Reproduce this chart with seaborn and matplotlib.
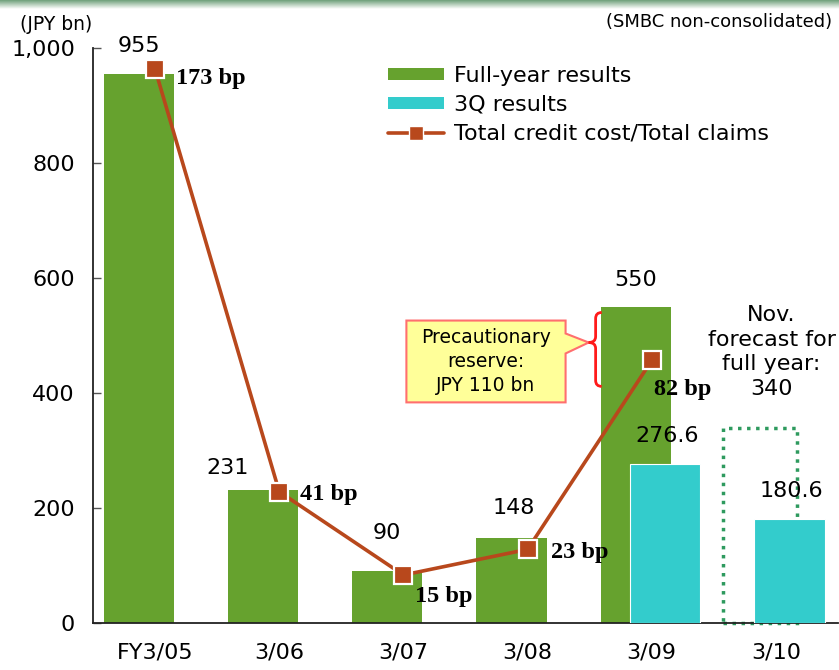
import numpy as np
import pandas as pd
import matplotlib
matplotlib.use("Agg")
import matplotlib.pyplot as plt
from matplotlib.patches import Patch, Polygon, Rectangle, PathPatch
from matplotlib.lines import Line2D
from matplotlib.path import Path
from matplotlib.ticker import FuncFormatter
import seaborn as sns

# ---- data ---------------------------------------------------------------
periods = ["FY3/05", "3/06", "3/07", "3/08", "3/09", "3/10"]
full_year = [955, 231, 90, 148, 550, None]          # JPY bn
q3_results = [None, None, None, None, 276.6, 180.6]  # JPY bn
forecast_full_year = 340                             # Nov. forecast for 3/10
credit_cost_bp = [173, 41, 15, 23, 82]               # total credit cost / total claims

# ---- style ----------------------------------------------------------------
sns.set_style("white")
plt.rcParams["font.family"] = ["DejaVu Sans"]
plt.rcParams["text.color"] = "black"
plt.rcParams["xtick.color"] = "black"
plt.rcParams["ytick.color"] = "black"

GREEN = "#66A22E"
CYAN = "#33CCCC"
RUST = "#B8481C"
FORECAST_EDGE = "#2E9A5E"
PX = 1 / 1.389  # pixels -> points at 100 dpi

fig = plt.figure(figsize=(8.39, 6.70), dpi=100)
ax = fig.add_axes([93 / 839, 47 / 670, (838 - 93) / 839, (623 - 48) / 670])

# thin header band
band = fig.add_axes([0, 1 - 9 / 670, 1, 9 / 670])
grad = np.linspace(0, 1, 50).reshape(-1, 1)
band.imshow(grad, aspect="auto", cmap=matplotlib.colors.LinearSegmentedColormap.from_list(
    "hdr", ["#6FA07A", "#FFFFFF"]), extent=[0, 1, 0, 1])
band.set_axis_off()

x = np.arange(len(periods))
bar_w = 0.565
green_off = -0.13
cyan_off = 0.11

fy = np.array([np.nan if v is None else v for v in full_year], dtype=float)
q3 = np.array([np.nan if v is None else v for v in q3_results], dtype=float)

ax.bar(x + green_off, fy, width=bar_w, color=GREEN, edgecolor="none", zorder=2)
ax.bar(x + cyan_off, q3, width=bar_w, color=CYAN, edgecolor="white", lw=0.8, zorder=3)

# forecast outline for the current fiscal year
last = len(periods) - 1
ax.add_patch(Rectangle((last + green_off - 0.3, 0), 0.6, forecast_full_year,
                       fill=False, edgecolor=FORECAST_EDGE, lw=2.5,
                       ls=(0, (1.0, 1.6)), zorder=1, clip_on=False))

ax.set_xlim(-0.5, 5.5)
ax.set_ylim(0, 1000)
ax.set_yticks(np.arange(0, 1001, 200))
ax.yaxis.set_major_formatter(FuncFormatter(lambda v, p: f"{int(v):,}"))
ax.set_xticks(x)
ax.set_xticklabels(periods)
ax.set_xticks(np.arange(-0.5, 6, 1), minor=True)
ax.tick_params(axis="x", which="major", length=0, pad=14, labelsize=16)
ax.tick_params(axis="x", which="minor", direction="in", length=6, width=1, color="#555555")
ax.tick_params(axis="y", direction="in", length=6, width=1, color="#555555", pad=13, labelsize=16)
for s in ["top", "right"]:
    ax.spines[s].set_visible(False)
for s in ["left", "bottom"]:
    ax.spines[s].set_color("#222222")
    ax.spines[s].set_linewidth(1.3)
ax.grid(False)

# value labels
label_pos = [  # (x offset px, y offset px) from the top centre of each bar
    (0, 28), (-36, 22), (0, 38), (2, 30), (0, 27)]
for i, v in enumerate(full_year):
    if v is None:
        continue
    dx, dy = label_pos[i]
    ax.annotate(f"{v:g}", (i + green_off, v), xytext=(dx * PX, dy * PX),
                textcoords="offset points", ha="center", va="center", fontsize=16)
for i, v in enumerate(q3_results):
    if v is None:
        continue
    ax.annotate(f"{v:g}", (i + cyan_off, v), xytext=(1, 28 * PX),
                textcoords="offset points", ha="center", va="center", fontsize=16)

ax.text(4.965, (623 - 352) / 0.575, f"Nov.\nforecast for\nfull year:\n{forecast_full_year}",
        ha="center", va="center", fontsize=16, linespacing=1.3)

# precautionary reserve callout
callout = [(2.024, 526), (3.306, 526), (3.306, 503.5), (3.492, 487.8),
           (3.306, 468.75), (3.306, 383.7), (2.024, 383.7)]
ax.add_patch(Polygon(callout, closed=True, facecolor="#FFFF99", edgecolor="#FF6F6F",
                     lw=1.5, zorder=4))
ax.text(2.665, 455, "Precautionary\nreserve:\nJPY 110 bn", ha="center", va="center",
        fontsize=13.5, linespacing=1.35, zorder=5)
brace = Path([(3.597, 540), (3.548, 540), (3.548, 529.5), (3.548, 498.3),
              (3.548, 487.8), (3.492, 487.8), (3.548, 487.8), (3.548, 477.4),
              (3.548, 421.9), (3.548, 411.5), (3.597, 411.5)],
             [Path.MOVETO, Path.CURVE3, Path.CURVE3, Path.LINETO,
              Path.CURVE3, Path.CURVE3, Path.CURVE3, Path.CURVE3,
              Path.LINETO, Path.CURVE3, Path.CURVE3])
ax.add_patch(PathPatch(brace, fill=False, edgecolor="#FF1A1A", lw=2, zorder=4))

# credit cost ratio on a hidden secondary scale
ax2 = ax.twinx()
bp_df = pd.DataFrame({"x": x[:len(credit_cost_bp)], "bp": credit_cost_bp})
sns.lineplot(data=bp_df, x="x", y="bp", ax=ax2, color=RUST, lw=2.6, marker="s",
             markersize=13, markerfacecolor=RUST, markeredgecolor="white",
             markeredgewidth=1.6, zorder=6)
ax2.set_ylim(0, 179.6)
ax2.set_xlim(-0.5, 5.5)
ax2.set_axis_off()

bp_offsets = [(21, -9), (21, -3), (12, -22), (23, -3), (2, -29)]
for i, v in enumerate(credit_cost_bp):
    dx, dy = bp_offsets[i]
    ax2.annotate(f"{v} bp", (i, v), xytext=(dx * PX, dy * PX),
                 textcoords="offset points", ha="left", va="center", color="black",
                 fontsize=17.5, fontweight="bold", family=["Liberation Serif"], zorder=7)

# legend
handles = [Patch(facecolor=GREEN, edgecolor="none"),
           Patch(facecolor=CYAN, edgecolor="none"),
           Line2D([], [], color=RUST, lw=2.6, marker="s", markersize=10,
                  markerfacecolor=RUST, markeredgecolor="white", markeredgewidth=1)]
fig.legend(handles, ["Full-year results", "3Q results", "Total credit cost/Total claims"],
           loc="upper left", bbox_to_anchor=(388 / 839, 1 - 66 / 670), frameon=False,
           fontsize=16, handlelength=2.5, handleheight=0.5, handletextpad=0.45,
           labelspacing=0.4, borderpad=0, borderaxespad=0, labelcolor="black")

fig.text(56 / 839, 1 - 24 / 670, "(JPY bn)", ha="center", va="center", fontsize=13.5)
fig.text(832 / 839, 1 - 22 / 670, "(SMBC non-consolidated)", ha="right", va="center", fontsize=13)

fig.savefig("out.png", dpi=100)
